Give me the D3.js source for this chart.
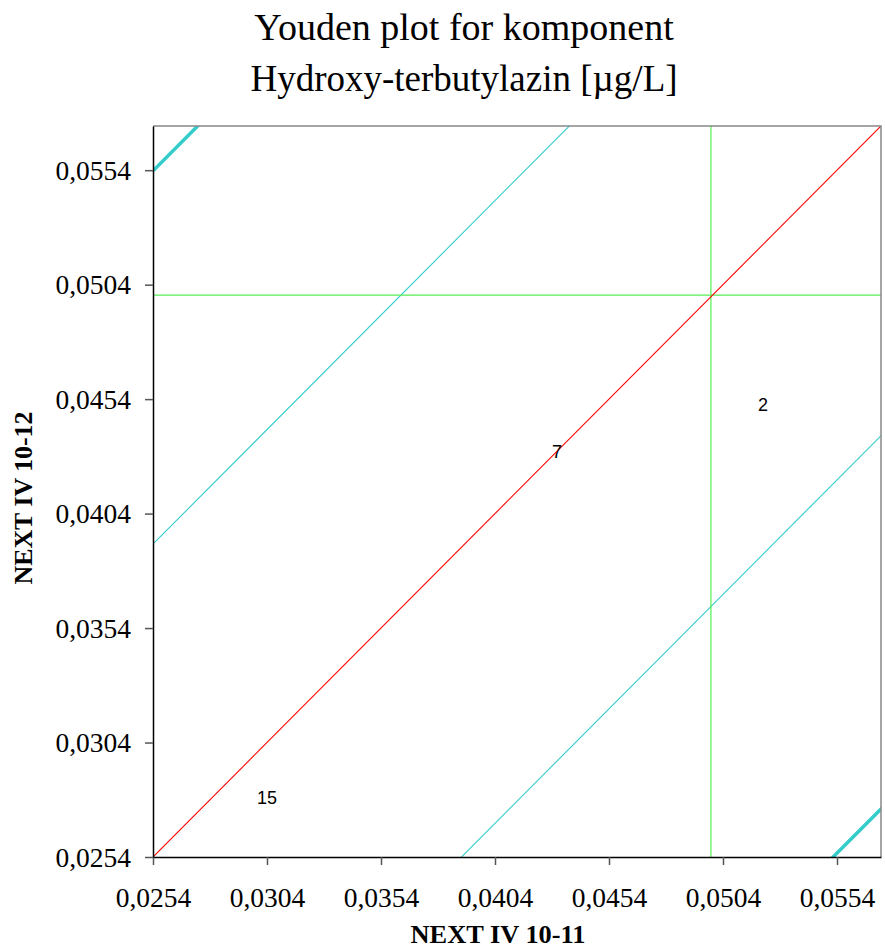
<!DOCTYPE html>
<html>
<head>
<meta charset="utf-8">
<script src="https://cdn.jsdelivr.net/npm/d3@7"></script>
<style>
  body { margin: 0; background: #fff; }
  svg { display: block; }
</style>
</head>
<body>
<div id="chart"></div>
<script>
// Lab results (label, x sample, y sample)
var labs    = ["2", "7", "15"];
var xValues = [0.05215, 0.04312, 0.0304];
var yValues = [0.04514, 0.04309, 0.02798];

// Tick labels on both axes
var ticks = [0.0254, 0.0304, 0.0354, 0.0404, 0.0454, 0.0504, 0.0554];

// Reference lines: medians, inner band offset, outer band offset
var medianX = 0.04987;
var medianY = 0.04994;
var innerOffset = 0.0136;
var outerOffset = 0.0299;

var domainMin = 0.0254;
var domainMax = 0.05733;

var width = 885, height = 951;
var margin = {top: 126, right: 4, bottom: 94, left: 153};
var plotW = width - margin.left - margin.right;
var plotH = height - margin.top - margin.bottom;

var serif = '"Liberation Serif", "Times New Roman", serif';

var svg = d3.select('#chart').append('svg')
  .attr('width', width)
  .attr('height', height);

var x = d3.scaleLinear().domain([domainMin, domainMax]).range([0, plotW]);
var y = d3.scaleLinear().domain([domainMin, domainMax]).range([plotH, 0]);

var fmt = (d) => d3.format('.4f')(d).replace('.', ',');

// Title
svg.append('text')
  .attr('x', 464).attr('y', 40)
  .attr('text-anchor', 'middle')
  .style('font-family', serif)
  .style('font-size', '38px')
  .text('Youden plot for komponent');
svg.append('text')
  .attr('x', 464).attr('y', 91)
  .attr('text-anchor', 'middle')
  .style('font-family', serif)
  .style('font-size', '37px')
  .text('Hydroxy-terbutylazin [\u00b5g/L]');

var g = svg.append('g')
  .attr('transform', `translate(${margin.left}, ${margin.top})`);

// clip everything to the plot area
g.append('clipPath').attr('id', 'plotclip')
  .append('rect').attr('width', plotW).attr('height', plotH);
var plot = g.append('g').attr('clip-path', 'url(#plotclip)');

// frame top and right in gray
g.append('path')
  .attr('d', `M0,0H${plotW}V${plotH}`)
  .attr('fill', 'none')
  .attr('stroke', '#888')
  .attr('stroke-width', 1.5);

var line = d3.line().x((d) => x(d[0])).y((d) => y(d[1]));

// diagonal lines y = x + offset
function diag(offset, color, w) {
  var a = domainMin - 0.01, b = domainMax + 0.01;
  plot.append('path')
    .attr('d', line([[a, a + offset], [b, b + offset]]))
    .attr('fill', 'none')
    .attr('stroke', color)
    .attr('stroke-width', w);
}
diag(medianY - medianX + innerOffset, '#33cccc', 1.1);
diag(medianY - medianX - innerOffset, '#33cccc', 1.1);
diag(medianY - medianX + outerOffset, '#33cccc', 3.5);
diag(medianY - medianX - outerOffset, '#33cccc', 3.5);

// medians
plot.append('path')
  .attr('d', line([[medianX, domainMin], [medianX, domainMax]]))
  .attr('stroke', '#55ee55').attr('stroke-width', 1.2);
plot.append('path')
  .attr('d', line([[domainMin, medianY], [domainMax, medianY]]))
  .attr('stroke', '#55ee55').attr('stroke-width', 1.2);

// y = x line
diag(0, '#ff0000', 1.1);

// Axes
var xAxis = d3.axisBottom(x).tickValues(ticks).tickSize(8).tickSizeOuter(0).tickFormat(fmt);
var yAxis = d3.axisLeft(y).tickValues(ticks).tickSize(8).tickSizeOuter(0).tickFormat(fmt);

var xg = g.append('g').attr('transform', `translate(0, ${plotH})`).call(xAxis);
var yg = g.append('g').call(yAxis);
[xg, yg].forEach(function(a) {
  a.attr('font-family', serif).attr('font-size', 27.5);
  a.select('.domain').attr('stroke', '#000').attr('stroke-width', 1.5);
  a.selectAll('.tick line').attr('stroke', '#555').attr('stroke-width', 1.5);
  a.selectAll('.tick text').attr('fill', '#000');
});
xg.selectAll('.tick text').attr('y', 50).attr('dy', null);
yg.selectAll('.tick text').attr('x', -22).attr('dy', '0.33em');

// Axis titles
svg.append('text')
  .attr('x', 498).attr('y', 943)
  .attr('text-anchor', 'middle')
  .attr('textLength', 175)
  .attr('lengthAdjust', 'spacingAndGlyphs')
  .style('font-family', serif)
  .style('font-size', '26px')
  .style('font-weight', 'bold')
  .text('NEXT IV 10-11');
svg.append('text')
  .attr('transform', `translate(32, 498) rotate(-90)`)
  .attr('text-anchor', 'middle')
  .attr('textLength', 173)
  .attr('lengthAdjust', 'spacingAndGlyphs')
  .style('font-family', serif)
  .style('font-size', '26px')
  .style('font-weight', 'bold')
  .text('NEXT IV 10-12');

// Lab labels as point markers
g.selectAll('.lab')
  .data(labs).enter()
  .append('text')
  .attr('class', 'lab')
  .attr('x', (d, i) => x(xValues[i]))
  .attr('y', (d, i) => y(yValues[i]))
  .attr('dy', '0.35em')
  .attr('text-anchor', 'middle')
  .style('font-family', '"Liberation Sans", Arial, sans-serif')
  .style('font-size', '18px')
  .text((d) => d);
</script>
</body>
</html>
